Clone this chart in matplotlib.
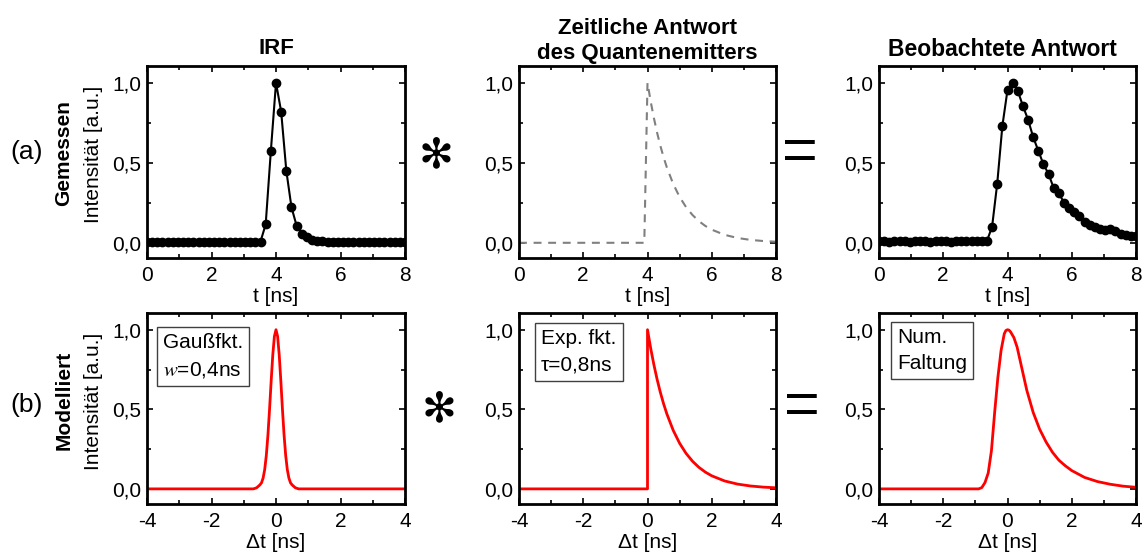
import numpy as np
import matplotlib
matplotlib.use("Agg")
import matplotlib.pyplot as plt
from matplotlib.ticker import MultipleLocator, FuncFormatter

plt.rcParams['font.family'] = ['Liberation Sans', 'DejaVu Sans']
plt.rcParams['mathtext.fontset'] = 'stix'
plt.rcParams['axes.unicode_minus'] = False

# measured data (TCSPC bins, 0.16 ns)
t_meas = np.linspace(0, 8, 51)
irf_meas = [0.006, 0.005, 0.006, 0.005, 0.005, 0.006, 0.005, 0.006, 0.005, 0.005,
            0.006, 0.005, 0.005, 0.006, 0.005, 0.005, 0.006, 0.005, 0.005, 0.006,
            0.005, 0.006, 0.008, 0.115, 0.573, 1.000, 0.820, 0.450, 0.222, 0.106,
            0.058, 0.034, 0.020, 0.013, 0.009, 0.007, 0.006, 0.006, 0.005, 0.005,
            0.005, 0.005, 0.005, 0.005, 0.005, 0.005, 0.005, 0.005, 0.005, 0.005, 0.005]
obs_meas = [0.010, 0.012, 0.008, 0.014, 0.009, 0.011, 0.007, 0.012, 0.010, 0.013,
            0.008, 0.011, 0.014, 0.009, 0.006, 0.010, 0.012, 0.009, 0.011, 0.013,
            0.010, 0.012, 0.100, 0.370, 0.730, 0.955, 1.000, 0.950, 0.855, 0.770,
            0.660, 0.575, 0.490, 0.430, 0.340, 0.310, 0.250, 0.215, 0.190, 0.165,
            0.133, 0.113, 0.098, 0.085, 0.082, 0.085, 0.071, 0.056, 0.050, 0.044, 0.045]

# emitter response (grey dashed, top middle)
t_em = [0, 3.9, 4.0, 4.1, 4.2, 4.3, 4.4, 4.5, 4.6, 4.8, 5.0, 5.2, 5.4, 5.6, 5.8,
        6.0, 6.4, 6.8, 7.2, 7.6, 8.0]
y_em = [0, 0, 1.0, 0.8825, 0.7788, 0.6873, 0.6065, 0.5353, 0.4724, 0.3679, 0.2865,
        0.2231, 0.1738, 0.1353, 0.1054, 0.0821, 0.0498, 0.0302, 0.0183, 0.0111, 0.0067]

# modelled curves (bottom row)
t_gauss = [-4, -0.7, -0.6, -0.5, -0.45, -0.4, -0.35, -0.3, -0.25, -0.2, -0.15, -0.1, -0.05,
           0, 0.05, 0.1, 0.15, 0.2, 0.25, 0.3, 0.35, 0.4, 0.45, 0.5, 0.6, 0.7, 4]
y_gauss = [0, 0, 0.007, 0.025, 0.038, 0.068, 0.122, 0.211, 0.339, 0.500, 0.678, 0.841, 0.958,
           1.0, 0.958, 0.841, 0.678, 0.500, 0.339, 0.211, 0.122, 0.068, 0.038, 0.025, 0.007, 0, 0]

t_exp = [-4, 0, 0, 0.1, 0.2, 0.3, 0.4, 0.5, 0.6, 0.8, 1.0, 1.2, 1.4, 1.6, 1.8,
         2.0, 2.4, 2.8, 3.2, 3.6, 4.0]
y_exp = [0, 0, 1.0, 0.8825, 0.7788, 0.6873, 0.6065, 0.5353, 0.4724, 0.3679, 0.2865,
         0.2231, 0.1738, 0.1353, 0.1054, 0.0821, 0.0498, 0.0302, 0.0183, 0.0111, 0.0067]

t_conv = [-4, -0.9, -0.8, -0.7, -0.6, -0.5, -0.4, -0.3, -0.2, -0.1, -0.05, 0, 0.05, 0.1,
          0.2, 0.3, 0.4, 0.5, 0.6, 0.8, 1.0, 1.2, 1.4, 1.6, 1.8, 2.0, 2.4, 2.8, 3.2, 3.6, 4.0]
y_conv = [0, 0, 0.008, 0.04, 0.10, 0.24, 0.48, 0.70, 0.87, 0.975, 0.995, 1.0, 0.997, 0.985,
          0.95, 0.89, 0.80, 0.71, 0.62, 0.48, 0.375, 0.295, 0.23, 0.18, 0.145, 0.115,
          0.072, 0.046, 0.029, 0.017, 0.010]

W, H = 1142, 559
fig = plt.figure(figsize=(W / 100, H / 100), dpi=100)

def px_axes(x0, y0, x1, y1):
    return fig.add_axes([x0 / W, 1 - y1 / H, (x1 - x0) / W, (y1 - y0) / H])

comma = FuncFormatter(lambda v, p: f"{v:.1f}".replace('.', ','))

def style(ax, xlim, xlabel):
    ax.set_xlim(*xlim)
    ax.set_ylim(-0.095, 1.105)
    ax.xaxis.set_major_locator(MultipleLocator(2))
    ax.xaxis.set_minor_locator(MultipleLocator(1))
    ax.yaxis.set_major_locator(MultipleLocator(0.5))
    ax.yaxis.set_minor_locator(MultipleLocator(0.25))
    ax.yaxis.set_major_formatter(comma)
    ax.tick_params(which='both', direction='in', top=True, right=True, width=1.2)
    ax.tick_params(which='major', length=4)
    ax.tick_params(which='minor', length=3)
    ax.tick_params(axis='x', labelsize=15, pad=6)
    ax.tick_params(axis='y', labelsize=15, pad=4)
    for s in ax.spines.values():
        s.set_linewidth(2)
    ax.set_xlabel(xlabel, fontsize=15, labelpad=1)

cols = [(147, 405), (519, 776), (879, 1136)]
top = [px_axes(x0, 66, x1, 258) for x0, x1 in cols]
bot = [px_axes(x0, 313, x1, 504) for x0, x1 in cols]

top[0].plot(t_meas, irf_meas, 'k-', lw=1.5, marker='o', ms=6)
top[1].plot(t_em, y_em, color='gray', lw=1.5, ls=(0, (3.8, 3.2)))
top[2].plot(t_meas, obs_meas, 'k-', lw=1.5, marker='o', ms=6)
for ax in top:
    style(ax, (0, 8), 't [ns]')

bot[0].plot(t_gauss, y_gauss, color='red', lw=2)
bot[1].plot(t_exp, y_exp, color='red', lw=2)
bot[2].plot(t_conv, y_conv, color='red', lw=2)
for ax in bot:
    style(ax, (-4, 4), 'Δt [ns]')

box = dict(boxstyle='square,pad=0.3', fc='white', ec='#404040', lw=1)
bot[0].text(0.062, 0.895, 'Gaußfkt.\n$w$=0,4ns', transform=bot[0].transAxes,
            va='top', ha='left', fontsize=15, linespacing=1.5, bbox=box)
bot[1].text(0.086, 0.916, 'Exp. fkt.\nτ=0,8ns', transform=bot[1].transAxes,
            va='top', ha='left', fontsize=15, linespacing=1.5, bbox=box)
bot[2].text(0.07, 0.92, 'Num.\nFaltung', transform=bot[2].transAxes,
            va='top', ha='left', fontsize=15, linespacing=1.45, bbox=box)

def ftxt(x, y, s, **kw):
    fig.text(x / W, 1 - y / H, s, ha='center', va='center', **kw)

# column titles
ftxt(276, 48, 'IRF', fontsize=16, fontweight='bold')
ftxt(647, 41, 'Zeitliche Antwort\ndes Quantenemitters', fontsize=16,
     fontweight='bold', linespacing=1.25)
ftxt(1002, 50, 'Beobachtete Antwort', fontsize=16.5, fontweight='bold')

# row labels
ftxt(27, 152, '(a)', fontsize=19)
ftxt(27, 405, '(b)', fontsize=19)
ftxt(64, 153, 'Gemessen', fontsize=15, fontweight='bold', rotation=90)
ftxt(64, 400, 'Modelliert', fontsize=15, fontweight='bold', rotation=90)
ftxt(94, 154, 'Intensität [a.u.]', fontsize=15, rotation=90)
ftxt(94, 401, 'Intensität [a.u.]', fontsize=15, rotation=90)

# operators
ftxt(436, 155, '✻', fontsize=30, family='DejaVu Sans')
ftxt(439, 409, '✻', fontsize=30, family='DejaVu Sans')
ftxt(800, 155, '=', fontsize=44)
ftxt(802, 409, '=', fontsize=44)

fig.savefig('out.png', dpi=100)
